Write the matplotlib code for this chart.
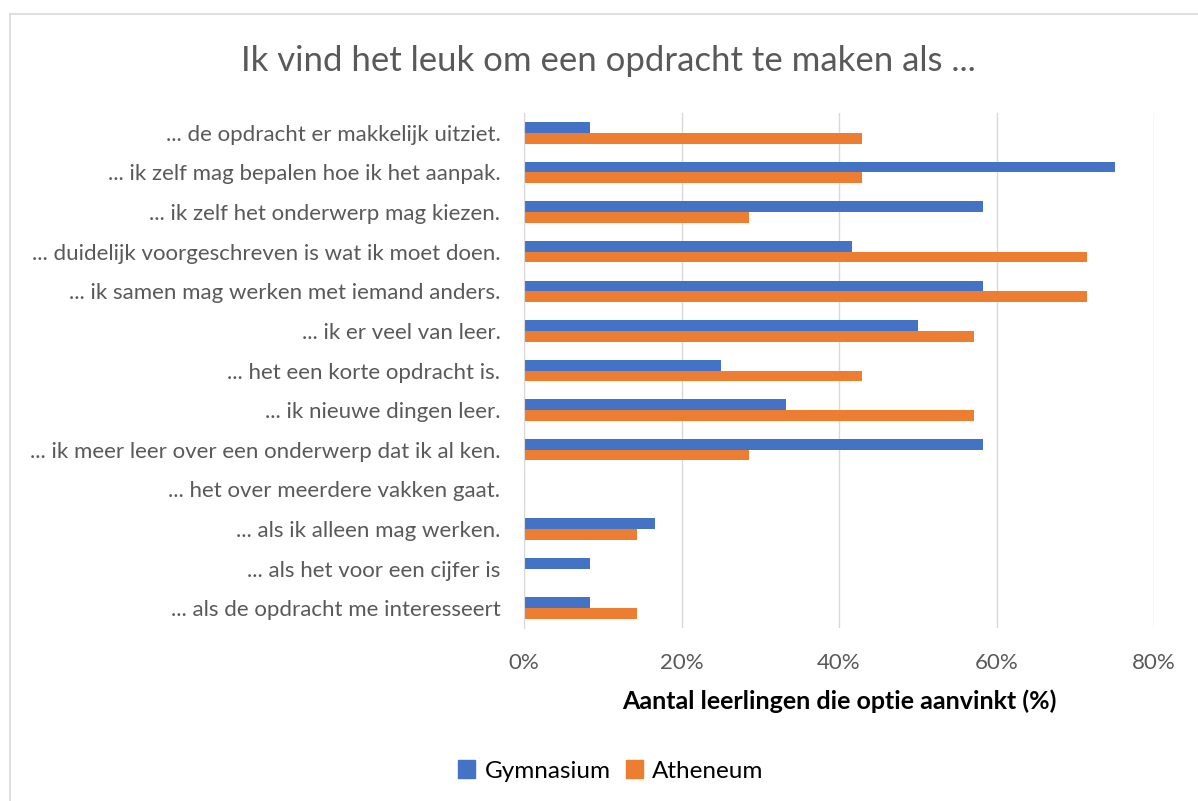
import matplotlib
matplotlib.use("Agg")
import matplotlib.pyplot as plt
from matplotlib.lines import Line2D
from matplotlib.patches import Patch
from matplotlib.ticker import PercentFormatter

# categories listed top to bottom, as in the chart
categories = [
    "... de opdracht er makkelijk uitziet.",
    "... ik zelf mag bepalen hoe ik het aanpak.",
    "... ik zelf het onderwerp mag kiezen.",
    "... duidelijk voorgeschreven is wat ik moet doen.",
    "... ik samen mag werken met iemand anders.",
    "... ik er veel van leer.",
    "... het een korte opdracht is.",
    "... ik nieuwe dingen leer.",
    "... ik meer leer over een onderwerp dat ik al ken.",
    "... het over meerdere vakken gaat.",
    "... als ik alleen mag werken.",
    "... als het voor een cijfer is",
    "... als de opdracht me interesseert",
]
gymnasium = [8.33, 75.0, 58.33, 41.67, 58.33, 50.0, 25.0, 33.33, 58.33, 0.0, 16.67, 8.33, 8.33]
atheneum = [42.86, 42.86, 28.57, 71.43, 71.43, 57.14, 42.86, 57.14, 28.57, 0.0, 14.29, 0.0, 14.29]

blue = "#4472C4"
orange = "#ED7D31"
grey_txt = "#595959"

plt.rcParams["font.family"] = ["Lato", "DejaVu Sans"]

fig = plt.figure(figsize=(11.98, 8.01), dpi=100)
ax = fig.add_axes([524 / 1198, 1 - 628 / 801, 630 / 1198, 515 / 801])

# light frame of the chart area (only left and top edges are in view)
fig.lines.append(Line2D([9.5 / 1198, 9.5 / 1198], [0, 1 - 13.5 / 801],
                        transform=fig.transFigure, color="#D9D9D9", linewidth=1.2))
fig.lines.append(Line2D([9.5 / 1198, 1], [1 - 13.5 / 801, 1 - 13.5 / 801],
                        transform=fig.transFigure, color="#D9D9D9", linewidth=1.2))

y = list(range(len(categories)))
h = 0.27
ax.barh([i - h / 2 for i in y], gymnasium, height=h, color=blue, label="Gymnasium")
ax.barh([i + h / 2 for i in y], atheneum, height=h, color=orange, label="Atheneum")

ax.set_ylim(len(categories) - 0.5, -0.5)
ax.set_xlim(0, 80)
ax.set_xticks([0, 20, 40, 60, 80])
ax.xaxis.set_major_formatter(PercentFormatter(decimals=0))
ax.set_yticks(y)
ax.set_yticklabels(categories)

ax.grid(axis="x", color="#D9D9D9", linewidth=1)
ax.set_axisbelow(True)
for side in ["top", "right", "bottom"]:
    ax.spines[side].set_visible(False)
ax.spines["left"].set_color("#D9D9D9")
ax.tick_params(axis="both", length=0, labelsize=16, labelcolor=grey_txt)
ax.tick_params(axis="x", pad=18)
ax.tick_params(axis="y", pad=17)

ax.set_xlabel("Aantal leerlingen die optie aanvinkt (%)", fontsize=18,
              fontweight="bold", color="black", labelpad=12)

fig.text(608 / 1198, 1 - 61 / 801, "Ik vind het leuk om een opdracht te maken als ...",
         ha="center", va="center", fontsize=25, color=grey_txt)

handles = [Patch(color=blue), Patch(color=orange)]
fig.legend(handles, ["Gymnasium", "Atheneum"], loc="center",
           bbox_to_anchor=(611 / 1198, 1 - 771 / 801), ncol=2, frameon=False,
           fontsize=17.5, handlelength=0.7, handleheight=0.7, handletextpad=0.4,
           columnspacing=0.6, labelcolor="black")

fig.savefig("out.png", dpi=100)
